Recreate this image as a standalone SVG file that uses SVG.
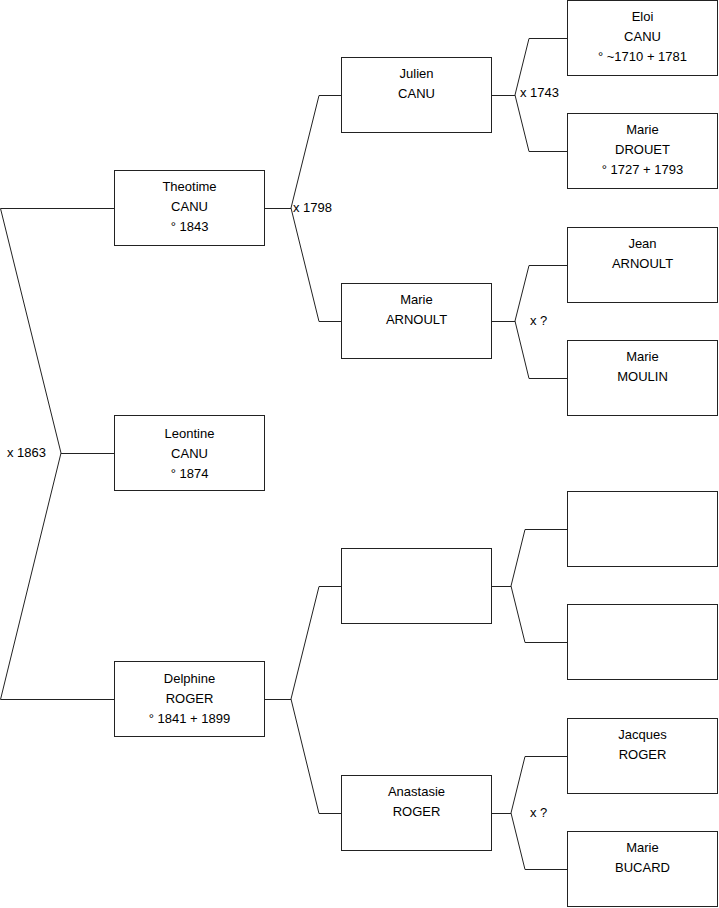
<svg xmlns="http://www.w3.org/2000/svg" width="719" height="908" viewBox="0 0 719 908">
<style>
.box{fill:#fff;stroke:#222;stroke-width:1}
.c{fill:none;stroke:#222;stroke-width:1}
text{font-family:"Liberation Sans",Arial,sans-serif;font-size:13px;fill:#000}
.n text{text-anchor:middle}
</style>
<rect width="719" height="908" fill="#fff"/>
<g id="connectors">
<polyline class="c" points="114,208.5 0.5,208.5 61,453 0.5,699.5 114,699.5"/>
<line class="c" x1="61" y1="453.5" x2="114" y2="453.5"/>
<line class="c" x1="265" y1="208.5" x2="291" y2="208.5"/>
<polyline class="c" points="341,95.5 319,95.5 291,208 319,321.5 341,321.5"/>
<line class="c" x1="492" y1="95.5" x2="515" y2="95.5"/>
<polyline class="c" points="567,38.5 529,38.5 515,95 529,151.5 567,151.5"/>
<line class="c" x1="492" y1="321.5" x2="515" y2="321.5"/>
<polyline class="c" points="567,265.5 529,265.5 515,321 529,378.5 567,378.5"/>
<line class="c" x1="265" y1="699.5" x2="291" y2="699.5"/>
<polyline class="c" points="341,586.5 319,586.5 291,699 319,813.5 341,813.5"/>
<line class="c" x1="492" y1="586.5" x2="511" y2="586.5"/>
<polyline class="c" points="567,529.5 525,529.5 511,586 525,642.5 567,642.5"/>
<line class="c" x1="492" y1="813.5" x2="511" y2="813.5"/>
<polyline class="c" points="567,756.5 525,756.5 511,813 525,869.5 567,869.5"/>
<text x="7" y="457">x 1863</text>
<text x="293" y="212">x 1798</text>
<text x="520" y="97">x 1743</text>
<text x="530" y="325">x ?</text>
<text x="530" y="817">x ?</text>
</g>
<g id="theotime" class="n"><rect class="box" x="114.5" y="170.5" width="150" height="75"/><text x="189.5" y="191">Theotime</text><text x="189.5" y="211">CANU</text><text x="189.5" y="231">° 1843</text></g>
<g id="leontine" class="n"><rect class="box" x="114.5" y="415.5" width="150" height="75"/><text x="189.5" y="438">Leontine</text><text x="189.5" y="458">CANU</text><text x="189.5" y="478">° 1874</text></g>
<g id="delphine" class="n"><rect class="box" x="114.5" y="661.5" width="150" height="75"/><text x="189.5" y="683">Delphine</text><text x="189.5" y="703">ROGER</text><text x="189.5" y="723">° 1841 + 1899</text></g>
<g id="julien" class="n"><rect class="box" x="341.5" y="57.5" width="150" height="75"/><text x="416.5" y="78">Julien</text><text x="416.5" y="98">CANU</text></g>
<g id="marie-arnoult" class="n"><rect class="box" x="341.5" y="283.5" width="150" height="75"/><text x="416.5" y="304">Marie</text><text x="416.5" y="324">ARNOULT</text></g>
<g id="empty-father" class="n"><rect class="box" x="341.5" y="548.5" width="150" height="75"/></g>
<g id="anastasie" class="n"><rect class="box" x="341.5" y="775.5" width="150" height="75"/><text x="416.5" y="796">Anastasie</text><text x="416.5" y="816">ROGER</text></g>
<g id="eloi" class="n"><rect class="box" x="567.5" y="0.5" width="150" height="75"/><text x="642.5" y="21">Eloi</text><text x="642.5" y="41">CANU</text><text x="642.5" y="61">° ~1710 + 1781</text></g>
<g id="marie-drouet" class="n"><rect class="box" x="567.5" y="113.5" width="150" height="75"/><text x="642.5" y="134">Marie</text><text x="642.5" y="154">DROUET</text><text x="642.5" y="174">° 1727 + 1793</text></g>
<g id="jean" class="n"><rect class="box" x="567.5" y="227.5" width="150" height="75"/><text x="642.5" y="248">Jean</text><text x="642.5" y="268">ARNOULT</text></g>
<g id="marie-moulin" class="n"><rect class="box" x="567.5" y="340.5" width="150" height="75"/><text x="642.5" y="361">Marie</text><text x="642.5" y="381">MOULIN</text></g>
<g id="empty-gf" class="n"><rect class="box" x="567.5" y="491.5" width="150" height="75"/></g>
<g id="empty-gm" class="n"><rect class="box" x="567.5" y="604.5" width="150" height="75"/></g>
<g id="jacques" class="n"><rect class="box" x="567.5" y="718.5" width="150" height="75"/><text x="642.5" y="739">Jacques</text><text x="642.5" y="759">ROGER</text></g>
<g id="marie-bucard" class="n"><rect class="box" x="567.5" y="831.5" width="150" height="75"/><text x="642.5" y="852">Marie</text><text x="642.5" y="872">BUCARD</text></g>
</svg>
